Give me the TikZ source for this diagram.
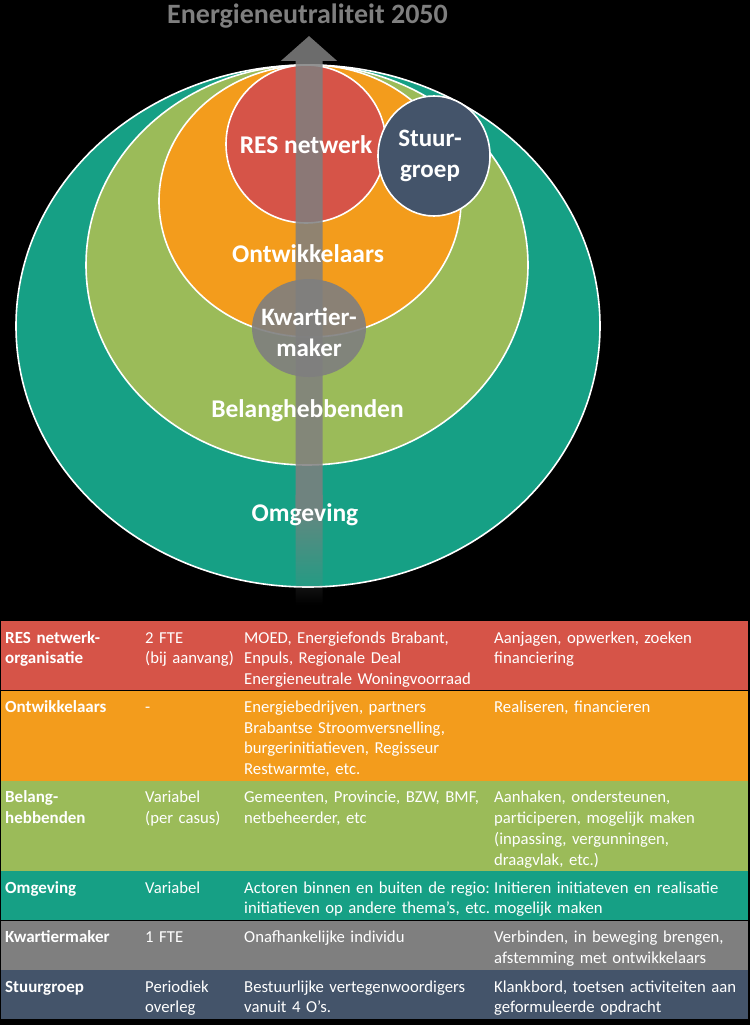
\documentclass[tikz,border=0pt]{standalone}
\usepackage{fontspec}
\setmainfont{Carlito}
\usetikzlibrary{arrows.meta, positioning, shapes.geometric, fadings}

\definecolor{resred}{RGB}{214,84,72}
\definecolor{ontorange}{RGB}{243,156,28}
\definecolor{belgreen}{RGB}{155,187,89}
\definecolor{omgteal}{RGB}{22,160,133}
\definecolor{kwgrey}{RGB}{127,127,127}
\definecolor{stuurblue}{RGB}{68,84,106}

\tikzfading[name=shaftfade, top color=transparent!0, bottom color=transparent!100]

\begin{document}
\begin{tikzpicture}[x=1pt, y=-1pt, >=Stealth,
    ring/.style={ellipse, draw=white, line width=1.6pt, inner sep=0pt},
    big/.style={font=\bfseries\fontsize{25.5}{30}\selectfont, text=white, anchor=base},
    two/.style={font=\bfseries\fontsize{25}{31.5}\selectfont, text=white, anchor=base, text width=140pt, align=center},
    row/.style={rectangle, minimum width=747pt, inner sep=0pt, anchor=north west},
    cell/.style={font=\fontsize{16.7}{20.75}\selectfont, text=white, inner sep=0pt, anchor=base west, text width=320pt, align=left},
    head/.style={cell, font=\bfseries\fontsize{17}{20.75}\selectfont}]

% background
\useasboundingbox (0,0) rectangle (750,1025);
\fill[black] (0,0) rectangle (750,1025);

% rings
\node[ring, fill=omgteal, minimum width=584pt, minimum height=522pt] (omg) at (308,326) {};
\node[ring, fill=belgreen, minimum width=442pt, minimum height=400pt] (bel) at (307,265) {};
\node[ring, fill=ontorange, minimum width=302pt, minimum height=272pt] (ont) at (310,201) {};
\node[ring, fill=resred, minimum width=160pt, minimum height=158pt] (res) at (306,144) {};
\node[ring, fill=stuurblue, minimum width=112pt, minimum height=120pt] (stuur) at (434,156) {};

% arrow
\coordinate (tip) at (309,36);
\coordinate (fade) at (309,520);
\begin{scope}[transparency group, opacity=0.85]
  \draw[kwgrey, line width=27pt, -{Triangle[width=55pt, length=25pt]}] (fade) -- (tip);
  \fill[kwgrey, path fading=shaftfade] (295.5,495) rectangle (322.5,605);
\end{scope}

\node[ellipse, fill=kwgrey, opacity=0.9, inner sep=0pt, minimum width=114pt, minimum height=98pt] (kwart) at (309,328) {};

% labels
\node[big, text=kwgrey, font=\bfseries\fontsize{28}{32}\selectfont] (title) at (307.5,24) {Energieneutraliteit 2050};
\node[big] (reslbl) at (306,153) {RES netwerk};
\node[two] (stuurlbl) at (430,146) {Stuur-\\groep};
\node[big] (ontlbl) at (308,262) {Ontwikkelaars};
\node[two] (kwartlbl) at (309,325) {Kwartier-\\maker};
\node[big] (bellbl) at (307.5,417) {Belanghebbenden};
\node[big] (omglbl) at (305,521) {Omgeving};

% table
\node[row, fill=resred, minimum height=69pt] (r1) at (1,621) {};
\node[row, fill=ontorange, minimum height=90pt, below=0pt of r1] (r2) {};
\node[row, fill=belgreen, minimum height=90pt, below=0pt of r2] (r3) {};
\node[row, fill=omgteal, minimum height=49pt, below=0pt of r3] (r4) {};
\node[row, fill=kwgrey, minimum height=49pt, below=0pt of r4] (r5) {};
\node[row, fill=stuurblue, minimum height=49pt, below=0pt of r5] (r6) {};

\node[head] (r1a) at ([shift={(4,22)}]r1.north west) {RES netwerk-\\organisatie};
\node[cell] (r1b) at ([shift={(144,22)}]r1.north west) {2 FTE\\(bij aanvang)};
\node[cell] (r1c) at ([shift={(243,22)}]r1.north west) {MOED, Energiefonds Brabant,\\Enpuls, Regionale Deal\\Energieneutrale Woningvoorraad};
\node[cell] (r1d) at ([shift={(493,22)}]r1.north west) {Aanjagen, opwerken, zoeken\\financiering};

\node[head] (r2a) at ([shift={(4,22)}]r2.north west) {Ontwikkelaars};
\node[cell] (r2b) at ([shift={(144,22)}]r2.north west) {-};
\node[cell] (r2c) at ([shift={(243,22)}]r2.north west) {Energiebedrijven, partners\\Brabantse Stroomversnelling,\\burgerinitiatieven, Regisseur\\Restwarmte, etc.};
\node[cell] (r2d) at ([shift={(493,22)}]r2.north west) {Realiseren, financieren};

\node[head] (r3a) at ([shift={(4,22)}]r3.north west) {Belang-\\hebbenden};
\node[cell] (r3b) at ([shift={(144,22)}]r3.north west) {Variabel\\(per casus)};
\node[cell] (r3c) at ([shift={(243,22)}]r3.north west) {Gemeenten, Provincie, BZW, BMF,\\netbeheerder, etc};
\node[cell] (r3d) at ([shift={(493,22)}]r3.north west) {Aanhaken, ondersteunen,\\participeren, mogelijk maken\\(inpassing, vergunningen,\\draagvlak, etc.)};

\node[head] (r4a) at ([shift={(4,22)}]r4.north west) {Omgeving};
\node[cell] (r4b) at ([shift={(144,22)}]r4.north west) {Variabel};
\node[cell] (r4c) at ([shift={(243,22)}]r4.north west) {Actoren binnen en buiten de regio:\\initiatieven op andere thema’s, etc.};
\node[cell] (r4d) at ([shift={(493,22)}]r4.north west) {Initieren initiateven en realisatie\\mogelijk maken};

\node[head] (r5a) at ([shift={(4,22)}]r5.north west) {Kwartiermaker};
\node[cell] (r5b) at ([shift={(144,22)}]r5.north west) {1 FTE};
\node[cell] (r5c) at ([shift={(243,22)}]r5.north west) {Onafhankelijke individu};
\node[cell] (r5d) at ([shift={(493,22)}]r5.north west) {Verbinden, in beweging brengen,\\afstemming met ontwikkelaars};

\node[head] (r6a) at ([shift={(4,22)}]r6.north west) {Stuurgroep};
\node[cell] (r6b) at ([shift={(144,22)}]r6.north west) {Periodiek\\overleg};
\node[cell] (r6c) at ([shift={(243,22)}]r6.north west) {Bestuurlijke vertegenwoordigers\\vanuit 4 O’s.};
\node[cell] (r6d) at ([shift={(493,22)}]r6.north west) {Klankbord, toetsen activiteiten aan\\geformuleerde opdracht};
\end{tikzpicture}
\end{document}
